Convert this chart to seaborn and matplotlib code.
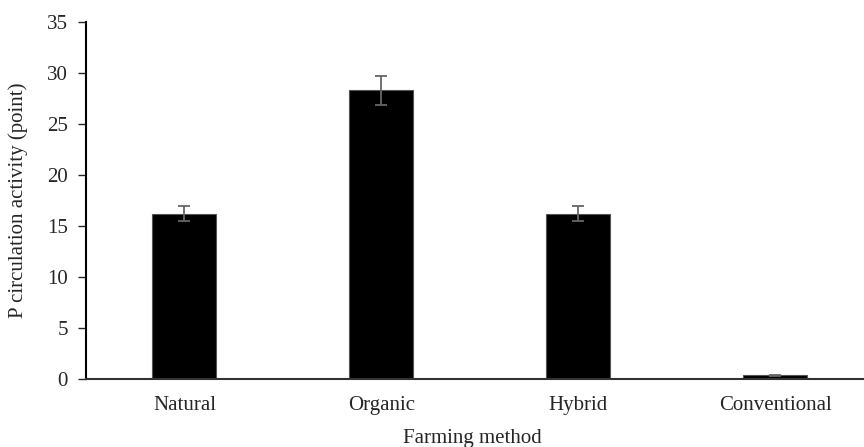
import numpy as np
import pandas as pd
import matplotlib
matplotlib.use("Agg")
import matplotlib.pyplot as plt
import seaborn as sns

# values
methods = ["Natural", "Organic", "Hybrid", "Conventional"]
activity = [16.2, 28.3, 16.2, 0.35]
errors = [0.75, 1.4, 0.75, 0.05]

sns.set_style("white")
plt.rcParams['font.family'] = ['Liberation Serif', 'DejaVu Serif']

df = pd.DataFrame({"method": methods, "activity": activity})

fig = plt.figure(figsize=(8.64, 4.47), dpi=100)
# the x axis runs slightly past the right edge of the figure
ax = fig.add_axes([0.0995, 0.152, 0.912, 0.799])

sns.barplot(data=df, x="method", y="activity", order=methods, color="black",
            width=0.325, errorbar=None, edgecolor="#555555", linewidth=0.8, ax=ax)
ax.errorbar(np.arange(len(methods)), activity, yerr=errors, fmt="none",
            ecolor="#666666", elinewidth=1.3, capsize=4, capthick=1.3)

ax.set_xlim(-0.5, 3.5)
ax.set_ylim(0, 35)
ax.set_yticks(range(0, 36, 5))
ax.set_xlabel("Farming method", fontsize=15)
ax.set_ylabel("P circulation activity (point)", fontsize=15)
ax.xaxis.set_label_coords(0.49, -0.14)
ax.yaxis.set_label_coords(-0.073, 0.5)
ax.tick_params(axis="y", labelsize=15, direction="out", length=6, width=1, left=True, pad=7)
ax.tick_params(axis="x", labelsize=15, length=0, pad=12)
for side in ["top", "right"]:
    ax.spines[side].set_visible(False)
ax.spines["left"].set_linewidth(1.5)
ax.spines["bottom"].set_linewidth(1.5)
ax.spines["left"].set_color("black")
ax.spines["bottom"].set_color("#333333")

fig.savefig("out.png", dpi=100)
